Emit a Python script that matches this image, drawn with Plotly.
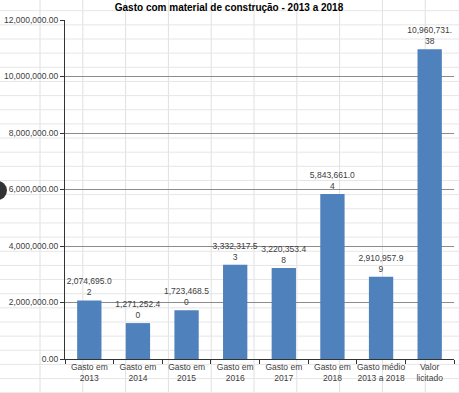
import plotly.graph_objects as go

categories = ["Gasto em<br>2013", "Gasto em<br>2014", "Gasto em<br>2015", "Gasto em<br>2016",
              "Gasto em<br>2017", "Gasto em<br>2018", "Gasto médio<br>2013 a 2018", "Valor<br>licitado"]
values = [2074695.02, 1271252.40, 1723468.50, 3332317.53, 3220353.48, 5843661.04, 2910957.99, 10960731.38]
y_ticks = [0, 2000000, 4000000, 6000000, 8000000, 10000000, 12000000]

def wrap(v):
    s = f"{v:,.2f}"
    return s[:11] + ("<br>" + s[11:] if len(s) > 11 else "")

labels = [wrap(v) for v in values]

W, H = 459, 393
L, R, T, B = 65, 5, 20, 34
pw, ph = W - L - R, H - T - B

def px(x):
    return (x - L) / pw

def py(y):
    return (H - B - y) / ph

fig = go.Figure(go.Bar(
    x=categories, y=values, text=labels, textposition="outside", constraintext="none",
    textfont=dict(size=8.5, color="#404040", family="Liberation Sans"),
    marker=dict(color="#4f81bd", line=dict(width=0)),
    cliponaxis=False, width=0.5, hoverinfo="skip",
))

shapes = []
# spreadsheet cell grid (background decoration)
x = 40.0
while x < W:
    shapes.append(dict(type="line", xref="paper", yref="paper", x0=px(x), x1=px(x), y0=py(0), y1=py(H),
                       line=dict(color="#e0e0e0", width=1), layer="below"))
    x += 42.8
y = 10.7
while y < H:
    shapes.append(dict(type="line", xref="paper", yref="paper", x0=px(0), x1=px(W), y0=py(y), y1=py(y),
                       line=dict(color="#e6e6e6", width=1), layer="below"))
    y += 14.15
# dark circle at the left edge
shapes.append(dict(type="circle", xref="paper", yref="paper", x0=px(-12), x1=px(7), y0=py(181), y1=py(200),
                   fillcolor="#333333", line=dict(width=0), layer="above"))

fig.update_layout(
    width=W, height=H,
    margin=dict(l=L, r=R, t=T, b=B, autoexpand=False),
    paper_bgcolor="white", plot_bgcolor="rgba(0,0,0,0)",
    title=dict(text="<b>Gasto com material de construção - 2013 a 2018</b>", x=229 / W, xanchor="center",
               y=1 - 7 / H, yanchor="middle",
               font=dict(size=10, color="#000000", family="Liberation Sans")),
    font=dict(family="Liberation Sans", size=8.5, color="#404040"),
    bargap=0.5, showlegend=False, shapes=shapes,
    xaxis=dict(showline=True, linecolor="#333333", linewidth=1, ticks="outside", ticklen=4,
               tickcolor="#333333", tickson="boundaries", showgrid=False, tickangle=0,
               automargin=False, tickfont=dict(size=8.5, color="#404040")),
    yaxis=dict(range=[0, 12000000], tickvals=y_ticks, tickformat=",.2f", showline=True,
               linecolor="#333333", linewidth=1, ticks="outside", ticklen=4, tickcolor="#333333",
               showgrid=True, gridcolor="#8c8c8c", gridwidth=1, zeroline=False, automargin=False,
               tickfont=dict(size=8.5, color="#404040")),
)

fig.write_html("out.html", config={"displayModeBar": False},
               post_script="document.body.style.margin='0';document.body.style.overflow='hidden';")
